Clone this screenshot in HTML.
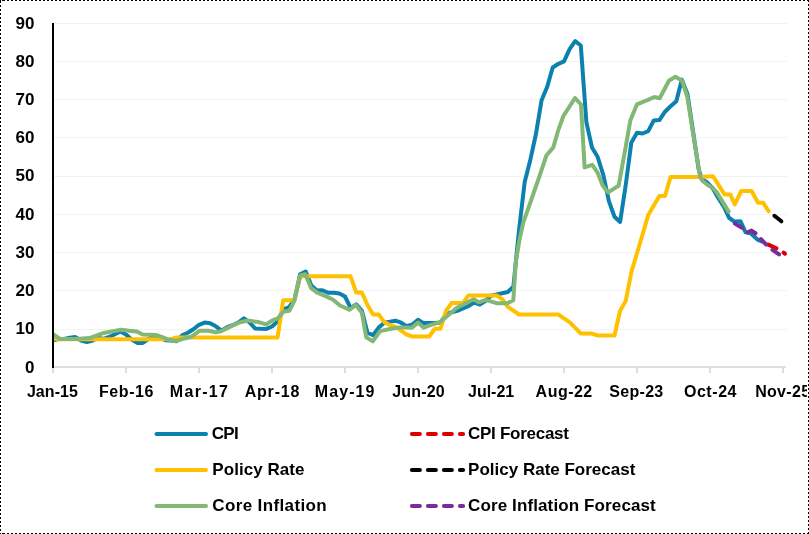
<!DOCTYPE html>
<html><head><meta charset="utf-8"><style>
html,body{margin:0;padding:0;background:#fff;}
#c{position:relative;will-change:transform;-webkit-font-smoothing:antialiased;width:809px;height:534px;overflow:hidden;background:#fff;font-family:"Liberation Sans",sans-serif;font-weight:bold;color:#000;}
#c svg{position:absolute;left:0;top:0;}
.yl{position:absolute;left:0;width:34.5px;text-align:right;font-size:17px;line-height:20px;}
.xl{position:absolute;top:382px;font-size:16px;line-height:20px;white-space:nowrap;}
.lg{position:absolute;font-size:17px;line-height:22px;white-space:nowrap;}
.bt,.bb{position:absolute;left:0;width:809px;height:1px;background:repeating-linear-gradient(to right,#000 0 2px,#fff 2px 4px);background-position:3px 0;}
.bt{top:0} .bb{top:533px}
.bl,.br{position:absolute;top:0;width:1px;height:534px;background:repeating-linear-gradient(to bottom,#000 0 2px,#fff 2px 4px);}
.bl{left:0;background-position:0 1px} .br{left:808px;background-position:0 0}
</style></head><body><div id="c">
<svg width="809" height="534" viewBox="0 0 809 534">
<defs><clipPath id="pc"><rect x="53" y="0" width="734" height="372"/></clipPath></defs>
<line x1="54" y1="329.5" x2="787" y2="329.5" stroke="#F2F2F2" stroke-width="1"/>
<line x1="54" y1="290.5" x2="787" y2="290.5" stroke="#F2F2F2" stroke-width="1"/>
<line x1="54" y1="252.5" x2="787" y2="252.5" stroke="#F2F2F2" stroke-width="1"/>
<line x1="54" y1="214.5" x2="787" y2="214.5" stroke="#F2F2F2" stroke-width="1"/>
<line x1="54" y1="176.5" x2="787" y2="176.5" stroke="#F2F2F2" stroke-width="1"/>
<line x1="54" y1="137.5" x2="787" y2="137.5" stroke="#F2F2F2" stroke-width="1"/>
<line x1="54" y1="99.5" x2="787" y2="99.5" stroke="#F2F2F2" stroke-width="1"/>
<line x1="54" y1="61.5" x2="787" y2="61.5" stroke="#F2F2F2" stroke-width="1"/>
<line x1="54" y1="23.5" x2="787" y2="23.5" stroke="#F2F2F2" stroke-width="1"/>
<line x1="53" y1="367" x2="786" y2="367" stroke="#D6D6D6" stroke-width="1.6"/>
<line x1="53" y1="367" x2="53" y2="373" stroke="#D6D6D6" stroke-width="1.6"/>
<line x1="126" y1="367" x2="126" y2="373" stroke="#D6D6D6" stroke-width="1.6"/>
<line x1="199" y1="367" x2="199" y2="373" stroke="#D6D6D6" stroke-width="1.6"/>
<line x1="272" y1="367" x2="272" y2="373" stroke="#D6D6D6" stroke-width="1.6"/>
<line x1="345" y1="367" x2="345" y2="373" stroke="#D6D6D6" stroke-width="1.6"/>
<line x1="418" y1="367" x2="418" y2="373" stroke="#D6D6D6" stroke-width="1.6"/>
<line x1="491" y1="367" x2="491" y2="373" stroke="#D6D6D6" stroke-width="1.6"/>
<line x1="564" y1="367" x2="564" y2="373" stroke="#D6D6D6" stroke-width="1.6"/>
<line x1="637" y1="367" x2="637" y2="373" stroke="#D6D6D6" stroke-width="1.6"/>
<line x1="710" y1="367" x2="710" y2="373" stroke="#D6D6D6" stroke-width="1.6"/>
<line x1="783" y1="367" x2="783" y2="373" stroke="#D6D6D6" stroke-width="1.6"/>
<g clip-path="url(#pc)" fill="none" stroke-linejoin="round" stroke-linecap="round">
<path d="M53.0,340.3 L58.6,339.1 L64.2,338.9 L69.8,337.8 L75.5,337.1 L81.1,340.5 L86.7,342.0 L92.3,340.7 L97.9,337.6 L103.5,339.0 L109.2,337.0 L114.8,334.3 L120.4,331.4 L126.0,334.4 L131.6,339.5 L137.2,342.9 L142.8,342.9 L148.5,338.8 L154.1,336.9 L159.7,337.2 L165.3,340.2 L170.9,340.6 L176.5,341.2 L182.1,335.4 L187.8,332.8 L193.4,329.3 L199.0,324.8 L204.6,322.6 L210.2,323.2 L215.8,326.3 L221.5,330.6 L227.1,327.2 L232.7,325.2 L238.3,322.5 L243.9,318.4 L249.5,322.4 L255.1,328.4 L260.8,328.8 L266.4,328.9 L272.0,326.5 L277.6,321.6 L283.2,309.2 L288.8,307.4 L294.4,299.6 L300.1,274.3 L305.7,271.5 L311.3,285.4 L316.9,290.4 L322.5,290.2 L328.1,292.8 L333.8,292.7 L339.4,293.5 L345.0,296.5 L350.6,307.9 L356.2,304.4 L361.8,310.6 L367.4,332.6 L373.1,335.3 L378.7,327.6 L384.3,322.7 L389.9,321.6 L395.5,320.7 L401.1,322.7 L406.7,326.2 L412.4,324.5 L418.0,319.8 L423.6,323.1 L429.2,323.0 L434.8,323.1 L440.4,322.6 L446.1,314.4 L451.7,312.2 L457.3,310.8 L462.9,308.3 L468.5,306.1 L474.1,302.5 L479.7,304.6 L485.4,301.0 L491.0,295.6 L496.6,294.4 L502.2,293.2 L507.8,292.0 L513.4,286.6 L519.0,230.1 L524.7,181.9 L530.3,159.9 L535.9,134.3 L541.5,100.6 L547.1,87.1 L552.7,67.5 L558.4,63.8 L564.0,61.4 L569.6,49.1 L575.2,41.2 L580.8,45.5 L586.4,122.4 L592.0,147.5 L597.7,157.1 L603.3,175.0 L608.9,201.1 L614.5,216.7 L620.1,222.0 L625.7,185.2 L631.3,142.7 L637.0,132.8 L642.6,133.5 L648.2,131.1 L653.8,120.4 L659.4,120.1 L665.0,111.7 L670.6,106.2 L676.3,101.2 L681.9,79.6 L687.5,94.3 L693.1,131.9 L698.7,169.4 L702.0,179.3 L707.0,182.3 L712.5,188.0 L718.5,198.4 L724.0,207.0 L729.1,217.9 L734.3,221.5 L740.4,221.2 L745.6,232.3 L750.7,233.3 L758.0,240.0 L763.0,242.0" stroke="#0C80AF" stroke-width="4"/>
<path d="M53.0,338.4 L58.6,339.3 L64.2,339.3 L69.8,339.3 L75.5,339.3 L81.1,339.3 L86.7,339.3 L92.3,339.3 L97.9,339.3 L103.5,339.3 L109.2,339.3 L114.8,339.3 L120.4,339.3 L126.0,339.3 L131.6,339.3 L137.2,339.3 L142.8,339.3 L148.5,339.3 L154.1,339.3 L159.7,339.3 L165.3,339.3 L170.9,339.3 L176.5,337.4 L182.1,337.4 L187.8,337.4 L193.4,337.4 L199.0,337.4 L204.6,337.4 L210.2,337.4 L215.8,337.4 L221.5,337.4 L227.1,337.4 L232.7,337.4 L238.3,337.4 L243.9,337.4 L249.5,337.4 L255.1,337.4 L260.8,337.4 L266.4,337.4 L272.0,337.4 L277.6,337.4 L283.2,300.2 L288.8,300.2 L294.4,300.2 L300.1,276.3 L305.7,276.3 L311.3,276.3 L316.9,276.3 L322.5,276.3 L328.1,276.3 L333.8,276.3 L339.4,276.3 L345.0,276.3 L350.6,276.3 L356.2,292.5 L361.8,292.5 L367.4,304.9 L373.1,314.5 L378.7,314.5 L384.3,322.1 L389.9,325.0 L395.5,326.9 L401.1,330.7 L406.7,334.6 L412.4,336.5 L418.0,336.5 L423.6,336.5 L429.2,336.5 L434.8,328.8 L440.4,328.8 L446.1,310.7 L451.7,303.0 L457.3,303.0 L462.9,303.0 L468.5,295.4 L474.1,295.4 L479.7,295.4 L485.4,295.4 L491.0,295.4 L496.6,295.4 L502.2,299.2 L507.8,306.8 L513.4,310.7 L519.0,314.5 L524.7,314.5 L530.3,314.5 L535.9,314.5 L541.5,314.5 L547.1,314.5 L552.7,314.5 L558.4,314.5 L564.0,318.3 L569.6,322.1 L575.2,327.9 L580.8,333.6 L586.4,333.6 L592.0,333.6 L597.7,335.5 L603.3,335.5 L608.9,335.5 L614.5,335.5 L620.1,310.7 L625.7,301.1 L631.3,272.4 L637.0,253.3 L642.6,234.2 L648.2,215.1 L653.8,205.6 L659.4,196.0 L665.0,196.0 L670.6,176.9 L676.3,176.9 L681.9,176.9 L687.5,176.9 L693.1,176.9 L698.7,176.9 L713.0,176.2 L724.5,194.4 L730.2,194.4 L734.8,204.5 L741.2,191.0 L751.6,191.0 L758.0,202.8 L763.2,202.8 L768.6,211.2" stroke="#FFC000" stroke-width="4"/>
<path d="M53.0,334.2 L60.0,339.0 L75.7,339.1 L89.6,338.1 L102.4,333.3 L110.3,331.8 L121.2,329.8 L129.1,330.8 L136.8,331.5 L142.7,334.5 L156.6,335.1 L161.5,336.8 L167.5,339.2 L176.4,341.2 L183.3,338.7 L191.2,336.8 L199.3,330.8 L208.5,330.8 L215.7,332.3 L220.9,331.3 L230.2,326.6 L239.4,322.5 L247.7,320.5 L258.0,322.0 L266.2,324.4 L272.7,320.2 L277.5,318.6 L283.8,311.5 L289.4,310.7 L294.2,301.1 L300.5,275.1 L305.3,274.3 L310.9,287.8 L317.2,292.6 L326.8,296.6 L333.1,299.7 L340.0,305.5 L349.7,309.8 L355.8,304.9 L361.9,312.8 L366.2,337.2 L372.8,341.4 L380.1,331.1 L388.7,329.3 L399.6,327.4 L405.0,327.5 L411.9,327.7 L418.0,322.6 L423.7,327.7 L431.0,324.9 L440.0,322.1 L446.7,316.5 L456.9,307.7 L473.7,299.3 L478.7,302.3 L485.6,299.8 L496.5,303.2 L507.4,303.2 L513.3,300.3 L515.8,262.0 L519.3,240.6 L523.4,222.1 L530.7,201.5 L538.9,177.8 L546.4,155.5 L553.3,147.4 L557.8,131.7 L563.4,116.0 L575.0,98.0 L581.0,104.5 L584.6,167.4 L592.3,164.8 L597.6,172.7 L602.8,185.8 L608.1,192.4 L618.6,185.8 L625.1,150.4 L630.4,120.2 L636.9,104.4 L647.9,99.9 L654.4,97.0 L659.7,98.3 L668.9,80.7 L675.4,76.8 L682.0,80.7 L687.2,96.5 L700.1,176.9 L702.4,180.8 L708.0,185.3 L711.9,187.0 L717.0,192.6 L728.6,211.6" stroke="#82B775" stroke-width="4"/>
<line x1="768.3" y1="244.6" x2="776.5" y2="248.3" stroke="#DC0000" stroke-width="4"/>
<line x1="783.6" y1="252.7" x2="784.9" y2="253.7" stroke="#DC0000" stroke-width="4"/>
<line x1="774.4" y1="215.8" x2="781.4" y2="221.3" stroke="#000000" stroke-width="4"/>
<path d="M734.8,223.5 L742.0,227.7" stroke="#7D2A9B" stroke-width="4"/>
<path d="M747.8,232.3 L751.5,230.6 L755.6,233.2" stroke="#7D2A9B" stroke-width="4"/>
<path d="M761.0,239.0 L766.2,244.6" stroke="#7D2A9B" stroke-width="4"/>
<path d="M772.4,249.8 L779.1,254.4" stroke="#7D2A9B" stroke-width="4"/>
</g>
<line x1="53" y1="23" x2="53" y2="368" stroke="#000" stroke-width="2"/>
<line x1="156.5" y1="434" x2="206" y2="434" stroke="#0C80AF" stroke-width="4" stroke-linecap="round"/>
<line x1="156.5" y1="470" x2="206" y2="470" stroke="#FFC000" stroke-width="4" stroke-linecap="round"/>
<line x1="156.5" y1="506" x2="206" y2="506" stroke="#82B775" stroke-width="4" stroke-linecap="round"/>
<line x1="411.9" y1="434" x2="419.9" y2="434" stroke="#DC0000" stroke-width="4" stroke-linecap="round"/><line x1="427.9" y1="434" x2="435.9" y2="434" stroke="#DC0000" stroke-width="4" stroke-linecap="round"/><line x1="443.9" y1="434" x2="451.9" y2="434" stroke="#DC0000" stroke-width="4" stroke-linecap="round"/><line x1="459.9" y1="434" x2="463.09999999999997" y2="434" stroke="#DC0000" stroke-width="4" stroke-linecap="round"/>
<line x1="411.9" y1="470" x2="419.9" y2="470" stroke="#000000" stroke-width="4" stroke-linecap="round"/><line x1="427.9" y1="470" x2="435.9" y2="470" stroke="#000000" stroke-width="4" stroke-linecap="round"/><line x1="443.9" y1="470" x2="451.9" y2="470" stroke="#000000" stroke-width="4" stroke-linecap="round"/><line x1="459.9" y1="470" x2="463.09999999999997" y2="470" stroke="#000000" stroke-width="4" stroke-linecap="round"/>
<line x1="411.9" y1="506" x2="419.9" y2="506" stroke="#7D2A9B" stroke-width="4" stroke-linecap="round"/><line x1="427.9" y1="506" x2="435.9" y2="506" stroke="#7D2A9B" stroke-width="4" stroke-linecap="round"/><line x1="443.9" y1="506" x2="451.9" y2="506" stroke="#7D2A9B" stroke-width="4" stroke-linecap="round"/><line x1="459.9" y1="506" x2="463.09999999999997" y2="506" stroke="#7D2A9B" stroke-width="4" stroke-linecap="round"/>
</svg>
<div class="yl" style="top:357.5px">0</div>
<div class="yl" style="top:319.3px">10</div>
<div class="yl" style="top:281.1px">20</div>
<div class="yl" style="top:242.8px">30</div>
<div class="yl" style="top:204.6px">40</div>
<div class="yl" style="top:166.4px">50</div>
<div class="yl" style="top:128.2px">60</div>
<div class="yl" style="top:90.0px">70</div>
<div class="yl" style="top:51.7px">80</div>
<div class="yl" style="top:13.5px">90</div>
<div class="xl" style="left:26.9px;letter-spacing:0.08px">Jan-15</div>
<div class="xl" style="left:98.9px;letter-spacing:0.6px">Feb-16</div>
<div class="xl" style="left:169.8px;letter-spacing:1.32px">Mar-17</div>
<div class="xl" style="left:244.7px;letter-spacing:0.8px">Apr-18</div>
<div class="xl" style="left:314.8px;letter-spacing:1.08px">May-19</div>
<div class="xl" style="left:392.2px;letter-spacing:0.2px">Jun-20</div>
<div class="xl" style="left:468.0px;letter-spacing:0px">Jul-21</div>
<div class="xl" style="left:535.6px;letter-spacing:0.48px">Aug-22</div>
<div class="xl" style="left:609.2px;letter-spacing:0.32px">Sep-23</div>
<div class="xl" style="left:683.9px;letter-spacing:0.56px">Oct-24</div>
<div class="xl" style="left:755.2px;letter-spacing:0.3px;width:52px;overflow:hidden">Nov-25</div>
<div class="lg" style="left:211.7px;top:423px;letter-spacing:-0.6px">CPI</div>
<div class="lg" style="left:212.3px;top:459px;letter-spacing:0.06px">Policy Rate</div>
<div class="lg" style="left:212.3px;top:495px;letter-spacing:0.37px">Core Inflation</div>
<div class="lg" style="left:468.0px;top:423px;letter-spacing:-0.27px">CPI Forecast</div>
<div class="lg" style="left:468.1px;top:459px;letter-spacing:0px">Policy Rate Forecast</div>
<div class="lg" style="left:468.0px;top:495px;letter-spacing:0.12px">Core Inflation Forecast</div>
<div class="bt"></div><div class="bb"></div><div class="bl"></div><div class="br"></div>
</div></body></html>
